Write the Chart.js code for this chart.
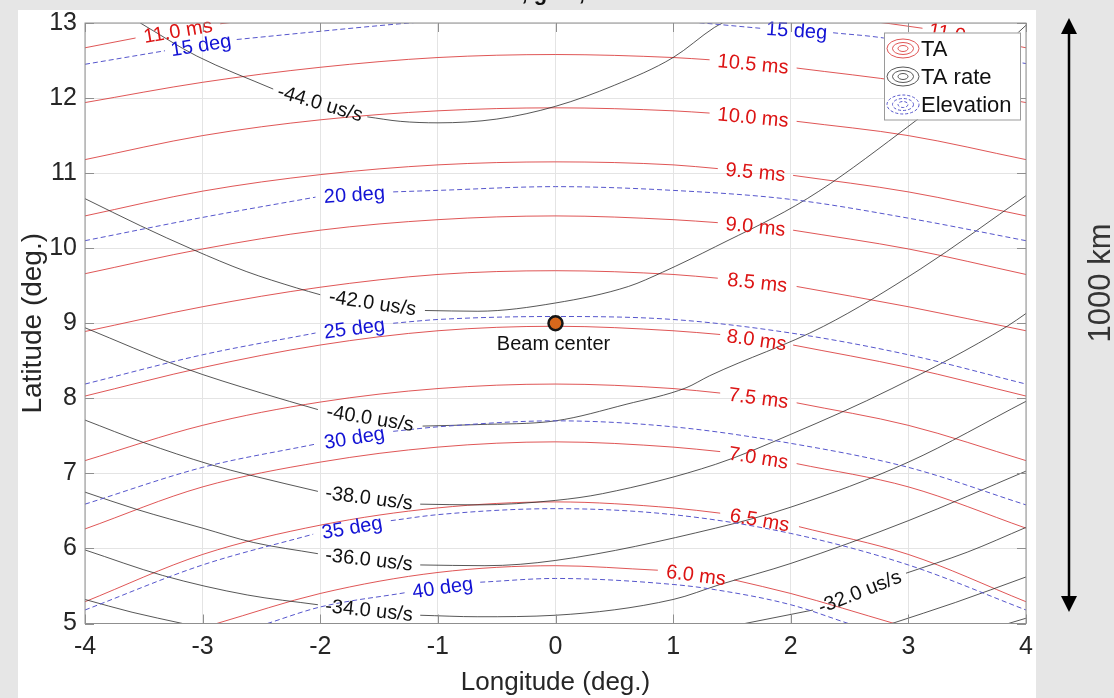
<!DOCTYPE html>
<html>
<head>
<meta charset="utf-8">
<script src="https://cdn.jsdelivr.net/npm/chart.js@4.4.1/dist/chart.umd.min.js"></script>
<style>
  html, body { margin: 0; padding: 0; background: #e6e6e6; }
  canvas { display: block; }
</style>
</head>
<body>
<canvas id="contours" width="1114" height="698"></canvas>
<script>
// axis ranges
const lonRange = [-4, 4];
const latRange = [5, 13];

// TA contours (ms); a null latitude is the gap where the inline label sits
const taLevels = [11.0, 11.0, 10.5, 10.0, 9.5, 9.0, 8.5, 8.0, 7.5, 7.0, 6.5, 6.0];
const taLon = [
  [-4, -3.57, -3.21, -2.85, -2.5],
  [2.5, 2.85, 3.12, 3.47, 3.81, 4],
  [-4, -3, -2, -1, 0, 1, 1.31, 1.68, 2.05, 3, 4],
  [-4, -3, -2, -1, 0, 1, 1.31, 1.68, 2.05, 3, 4],
  [-4, -3, -2, -1, 0, 1, 1.38, 1.70, 2.02, 3, 4],
  [-4, -3, -2, -1, 0, 1, 1.38, 1.70, 2.02, 3, 4],
  [-4, -3, -2, -1, 0, 1, 1.38, 1.71, 2.05, 3, 4],
  [-4, -3, -2, -1, 0, 1, 1.40, 1.71, 2.02, 3, 4],
  [-4, -3, -2, -1, 0, 1, 1.40, 1.72, 2.05, 3, 4],
  [-4, -3, -2, -1, 0, 1, 1.40, 1.72, 2.05, 3, 4],
  [-4, -3, -2, -1, 0, 1, 1.40, 1.73, 2.07, 3, 4],
  [-2.88, -2, -1, 0, 0.87, 1.2, 1.52, 2, 2.88]
];
const taLat = [
  [12.67, 12.80, null, 12.99, 13.06],
  [13.06, 12.99, 12.93, null, 12.73, 12.67],
  [11.94, 12.21, 12.41, 12.54, 12.58, 12.54, 12.51, null, 12.40, 12.21, 11.94],
  [11.18, 11.50, 11.71, 11.83, 11.87, 11.83, 11.80, null, 11.69, 11.50, 11.18],
  [10.43, 10.76, 10.98, 11.11, 11.15, 11.11, 11.06, null, 10.97, 10.75, 10.43],
  [9.66, 9.99, 10.24, 10.38, 10.43, 10.38, 10.34, null, 10.24, 9.99, 9.65],
  [8.89, 9.22, 9.48, 9.65, 9.70, 9.65, 9.60, null, 9.49, 9.22, 8.90],
  [8.03, 8.41, 8.71, 8.90, 8.96, 8.90, 8.85, null, 8.71, 8.41, 8.03],
  [7.17, 7.64, 7.95, 8.13, 8.19, 8.13, 8.07, null, 7.94, 7.64, 7.17],
  [6.26, 6.82, 7.15, 7.35, 7.42, 7.35, 7.29, null, 7.13, 6.82, 6.27],
  [5.29, 5.92, 6.31, 6.54, 6.62, 6.54, 6.47, null, 6.29, 5.92, 5.29],
  [5.0, 5.40, 5.68, 5.77, 5.71, null, 5.58, 5.40, 5.0]
];

// TA rate contours (us/s)
const rateLevels = [-44, -42, -40, -38, -36, -34, -32, -32, -30, -28];
const rateLon = [
  [-3.53, -3.05, -2.4, -2.0, -1.6, -1.32, -1.0, -0.5, 0, 0.5, 1.0, 1.35, 1.42],
  [-4, -3.53, -3.08, -2.63, -2.2, -2.0, -1.56, -1.11, -0.66, 0, 0.62, 0.91, 1.36, 2.14, 2.93, 3.5, 4.0],
  [-4, -3.17, -2.5, -2.02, -1.57, -1.13, -0.66, 0, 0.6, 1.11, 1.31, 2.28, 3.1, 4.0],
  [-4, -3.5, -2.94, -2.58, -2.02, -1.59, -1.15, -0.66, 0, 0.4, 1.36, 2.0, 2.86, 3.84, 4.0],
  [-4, -3.56, -3.0, -2.57, -2.02, -1.59, -1.15, -0.6, 0, 1.36, 2.0, 3.0, 4.0],
  [-4, -3.34, -2.62, -2.02, -1.59, -1.15, -0.66, 0, 1.0, 1.4, 2.0, 3.0, 4.0],
  [-4, -3.6, -3.17],
  [1.61, 2.19, 2.58, 2.98, 3.5, 4.0],
  [2.86, 3.4, 4.0],
  [3.85, 4.0]
];
const rateLat = [
  [13.0, 12.56, 12.12, null, 11.75, 11.69, 11.67, 11.72, 11.89, 12.17, 12.54, 12.94, 13.0],
  [10.66, 10.30, 9.98, 9.69, 9.47, 9.38, null, 9.17, 9.16, 9.27, 9.49, 9.68, 10.02, 10.66, 11.54, 12.25, 12.97],
  [8.94, 8.41, 8.07, 7.85, null, 7.63, 7.65, 7.70, 7.92, 8.14, 8.30, 8.96, 9.72, 10.70],
  [7.71, 7.41, 7.12, 6.97, 6.76, null, 6.59, 6.58, 6.64, 6.73, 7.12, 7.52, 8.13, 8.96, 9.13],
  [6.75, 6.52, 6.27, 6.08, 5.93, null, 5.78, 5.77, 5.84, 6.27, 6.55, 7.15, 7.96],
  [5.98, 5.64, 5.38, 5.25, null, 5.11, 5.09, 5.11, 5.32, 5.52, 5.80, 6.37, 7.03],
  [5.32, 5.15, 5.0],
  [5.0, 5.18, null, 5.67, 5.95, 6.28],
  [5.0, 5.28, 5.62],
  [5.0, 5.07]
];

// elevation contours (deg)
const elevLevels = [15, 20, 25, 30, 35, 40];
const elevLon = [
  [-4, -3.32, -3.02, -2.71, -2.0, -1.32, -1.0, 0, 1.0, 1.74, 2.05, 2.36, 2.79, 3.32, 4.0],
  [-4, -3, -2.04, -1.71, -1.38, -1, 0, 1, 2, 3, 4],
  [-4, -3, -2.04, -1.71, -1.38, -1, 0, 1, 2, 3, 4],
  [-4, -3, -2.04, -1.71, -1.38, -1, 0, 1, 2, 3, 4],
  [-4, -3, -2.06, -1.73, -1.40, -1, 0, 1, 2, 3, 4],
  [-2.45, -2.0, -1.28, -0.96, -0.64, 0, 1.0, 1.36, 2.0, 2.49]
];
const elevLat = [
  [12.45, 12.63, null, 12.78, 12.89, 12.99, 13.03, 13.1, 13.03, 12.93, null, 12.87, 12.80, 12.63, 12.46],
  [10.10, 10.41, 10.68, null, 10.75, 10.77, 10.82, 10.77, 10.65, 10.40, 10.10],
  [8.19, 8.58, 8.87, null, 9.00, 9.05, 9.09, 9.05, 8.87, 8.58, 8.19],
  [6.59, 7.08, 7.39, null, 7.56, 7.62, 7.70, 7.62, 7.40, 7.08, 6.58],
  [5.18, 5.78, 6.19, null, 6.37, 6.45, 6.53, 6.45, 6.20, 5.78, 5.18],
  [5.0, 5.22, 5.41, null, 5.55, 5.60, 5.52, 5.45, 5.25, 5.0]
];

// beam centre marker
const beamLon = [0];
const beamLat = [9];
const beamText = 'Beam center';

const legendNames = ['TA', 'TA rate', 'Elevation'];
const spanText = '1000 km';
const titleText = 'TA and TA rate contours, gNB, LEO 600 km';

const FONT = '"Liberation Sans", Arial, Helvetica, sans-serif';
Chart.defaults.font.family = FONT;

const RED = 'rgba(214, 38, 38, 0.78)';
const GREY = 'rgba(40, 40, 40, 0.78)';
const BLUE = '#5656cc';

const labelStyle = {
  ta:   { color: '#dc1414', text: v => v.toFixed(1) + ' ms' },
  rate: { color: '#111111', text: v => v.toFixed(1) + ' us/s' },
  elev: { color: '#1212d4', text: v => v + ' deg' }
};

function toPoints(lons, lats) {
  return lons.map((x, i) => ({ x: x, y: lats[i] }));
}

function contour(kind, level, lons, lats, color, dash) {
  return {
    kind: kind,
    level: level,
    data: toPoints(lons, lats),
    showLine: true,
    pointRadius: 0,
    borderColor: color,
    borderWidth: 1,
    borderDash: dash,
    cubicInterpolationMode: 'monotone',
    spanGaps: false
  };
}

const datasets = [{
  kind: 'beam',
  data: toPoints(beamLon, beamLat),
  showLine: false,
  pointRadius: 7,
  pointBackgroundColor: '#d8681c',
  pointBorderColor: '#151515',
  pointBorderWidth: 2.5
}];
elevLevels.forEach((lv, i) => datasets.push(contour('elev', lv, elevLon[i], elevLat[i], BLUE, [5, 3])));
rateLevels.forEach((lv, i) => datasets.push(contour('rate', lv, rateLon[i], rateLat[i], GREY, [])));
taLevels.forEach((lv, i) => datasets.push(contour('ta', lv, taLon[i], taLat[i], RED, [])));

// grey figure background, white panel and the clipped title
const backdrop = {
  id: 'backdrop',
  beforeDraw(chart) {
    const ctx = chart.ctx;
    ctx.save();
    ctx.fillStyle = '#e6e6e6';
    ctx.fillRect(0, 0, chart.width, chart.height);
    ctx.fillStyle = '#ffffff';
    ctx.fillRect(18, 10, 1018, chart.height - 10);
    ctx.fillStyle = '#111';
    ctx.font = 'bold 22px ' + FONT;
    ctx.textAlign = 'left';
    ctx.textBaseline = 'alphabetic';
    ctx.fillText(titleText, 268, -0.5);
    ctx.restore();
  }
};

// contour labels placed in the gaps of their own lines
const inlineLabels = {
  id: 'inlineLabels',
  afterDatasetsDraw(chart) {
    const { ctx, scales: { x, y } } = chart;
    ctx.save();
    ctx.font = '20px ' + FONT;
    ctx.textAlign = 'center';
    ctx.textBaseline = 'middle';
    chart.data.datasets.forEach(ds => {
      const st = labelStyle[ds.kind];
      if (!st) return;
      const pts = ds.data;
      for (let i = 1; i < pts.length - 1; i++) {
        if (pts[i].y !== null) continue;
        const a = pts[i - 1], b = pts[i + 1];
        const ax = x.getPixelForValue(a.x), ay = y.getPixelForValue(a.y);
        const bx = x.getPixelForValue(b.x), by = y.getPixelForValue(b.y);
        ctx.save();
        ctx.translate((ax + bx) / 2, (ay + by) / 2);
        ctx.rotate(Math.atan2(by - ay, bx - ax));
        ctx.fillStyle = st.color;
        ctx.fillText(st.text(ds.level), 0, 1);
        ctx.restore();
      }
    });
    // beam centre caption
    const px = x.getPixelForValue(beamLon[0]);
    const py = y.getPixelForValue(beamLat[0]);
    ctx.fillStyle = '#111';
    ctx.fillText(beamText, px - 2, py + 21);
    ctx.restore();
  }
};

function rings(ctx, cx, cy, color, dashed) {
  ctx.save();
  ctx.strokeStyle = color;
  ctx.lineWidth = 1;
  ctx.setLineDash(dashed ? [3, 2] : []);
  [[16, 9.5], [10.5, 6], [5, 3]].forEach(r => {
    ctx.beginPath();
    ctx.ellipse(cx, cy, r[0], r[1], 0, 0, Math.PI * 2);
    ctx.stroke();
  });
  ctx.restore();
}

// axes box, inward ticks, legend and the 1000 km marker
const frame = {
  id: 'frame',
  afterDraw(chart) {
    const { ctx, chartArea: a, scales: { x, y } } = chart;
    ctx.save();
    ctx.strokeStyle = '#8f8f8f';
    ctx.lineWidth = 1;
    ctx.strokeRect(a.left, a.top, a.right - a.left, a.bottom - a.top);
    ctx.beginPath();
    x.ticks.forEach(t => {
      const p = Math.round(x.getPixelForValue(t.value)) + 0.5;
      ctx.moveTo(p, a.bottom); ctx.lineTo(p, a.bottom - 9);
      ctx.moveTo(p, a.top); ctx.lineTo(p, a.top + 9);
    });
    y.ticks.forEach(t => {
      const p = Math.round(y.getPixelForValue(t.value)) + 0.5;
      ctx.moveTo(a.left, p); ctx.lineTo(a.left + 9, p);
      ctx.moveTo(a.right, p); ctx.lineTo(a.right - 9, p);
    });
    ctx.stroke();

    // legend
    const lx = a.right - 142, ly = a.top + 9.5, lw = 136, lh = 87;
    ctx.fillStyle = '#ffffff';
    ctx.fillRect(lx, ly, lw, lh);
    ctx.strokeStyle = '#9a9a9a';
    ctx.strokeRect(lx + 0.5, ly + 0.5, lw, lh);
    const colors = [RED, GREY, BLUE];
    ctx.font = '22px ' + FONT;
    ctx.textAlign = 'left';
    ctx.textBaseline = 'middle';
    legendNames.forEach((name, i) => {
      const cy = ly + 16 + i * 28;
      rings(ctx, lx + 19, cy, colors[i], i === 2);
      ctx.fillStyle = '#111';
      ctx.fillText(name, lx + 37, cy + 1);
    });

    // double arrow with span text
    const ax = 1069, top = 18, bot = 612;
    ctx.strokeStyle = '#000';
    ctx.fillStyle = '#000';
    ctx.lineWidth = 2.5;
    ctx.beginPath();
    ctx.moveTo(ax, top + 10); ctx.lineTo(ax, bot - 10);
    ctx.stroke();
    ctx.beginPath();
    ctx.moveTo(ax, top); ctx.lineTo(ax - 8, top + 16); ctx.lineTo(ax + 8, top + 16); ctx.closePath();
    ctx.moveTo(ax, bot); ctx.lineTo(ax - 8, bot - 16); ctx.lineTo(ax + 8, bot - 16); ctx.closePath();
    ctx.fill();
    ctx.translate(1101, 283);
    ctx.rotate(-Math.PI / 2);
    ctx.font = '31px ' + FONT;
    ctx.textAlign = 'center';
    ctx.fillStyle = '#343434';
    ctx.fillText(spanText, 0, 0);
    ctx.restore();
  }
};

new Chart(document.getElementById('contours'), {
  type: 'scatter',
  data: { datasets: datasets },
  options: {
    responsive: false,
    animation: false,
    devicePixelRatio: 1,
    events: [],
    layout: { padding: { left: 0, right: 88, top: 20.5, bottom: 0 } },
    plugins: { legend: { display: false }, tooltip: { enabled: false } },
    scales: {
      x: {
        type: 'linear',
        min: lonRange[0],
        max: lonRange[1],
        afterFit(scale) { scale.height = 74.5; },
        ticks: { stepSize: 1, color: '#262626', font: { size: 25 }, padding: 9, callback: v => String(v) },
        grid: { color: '#e4e4e4', drawTicks: false },
        border: { display: false },
        title: { display: true, text: 'Longitude (deg.)', color: '#262626', font: { size: 26 }, padding: { top: 0, bottom: 0 } }
      },
      y: {
        type: 'linear',
        min: latRange[0],
        max: latRange[1],
        afterFit(scale) { scale.width = 85; },
        ticks: { stepSize: 1, color: '#262626', font: { size: 25 }, padding: 8, callback: v => String(v) },
        grid: { color: '#e4e4e4', drawTicks: false },
        border: { display: false },
        title: { display: true, text: 'Latitude (deg.)', color: '#262626', font: { size: 28 }, padding: { top: 16, bottom: 0 } }
      }
    }
  },
  plugins: [backdrop, inlineLabels, frame]
});
</script>
</body>
</html>
